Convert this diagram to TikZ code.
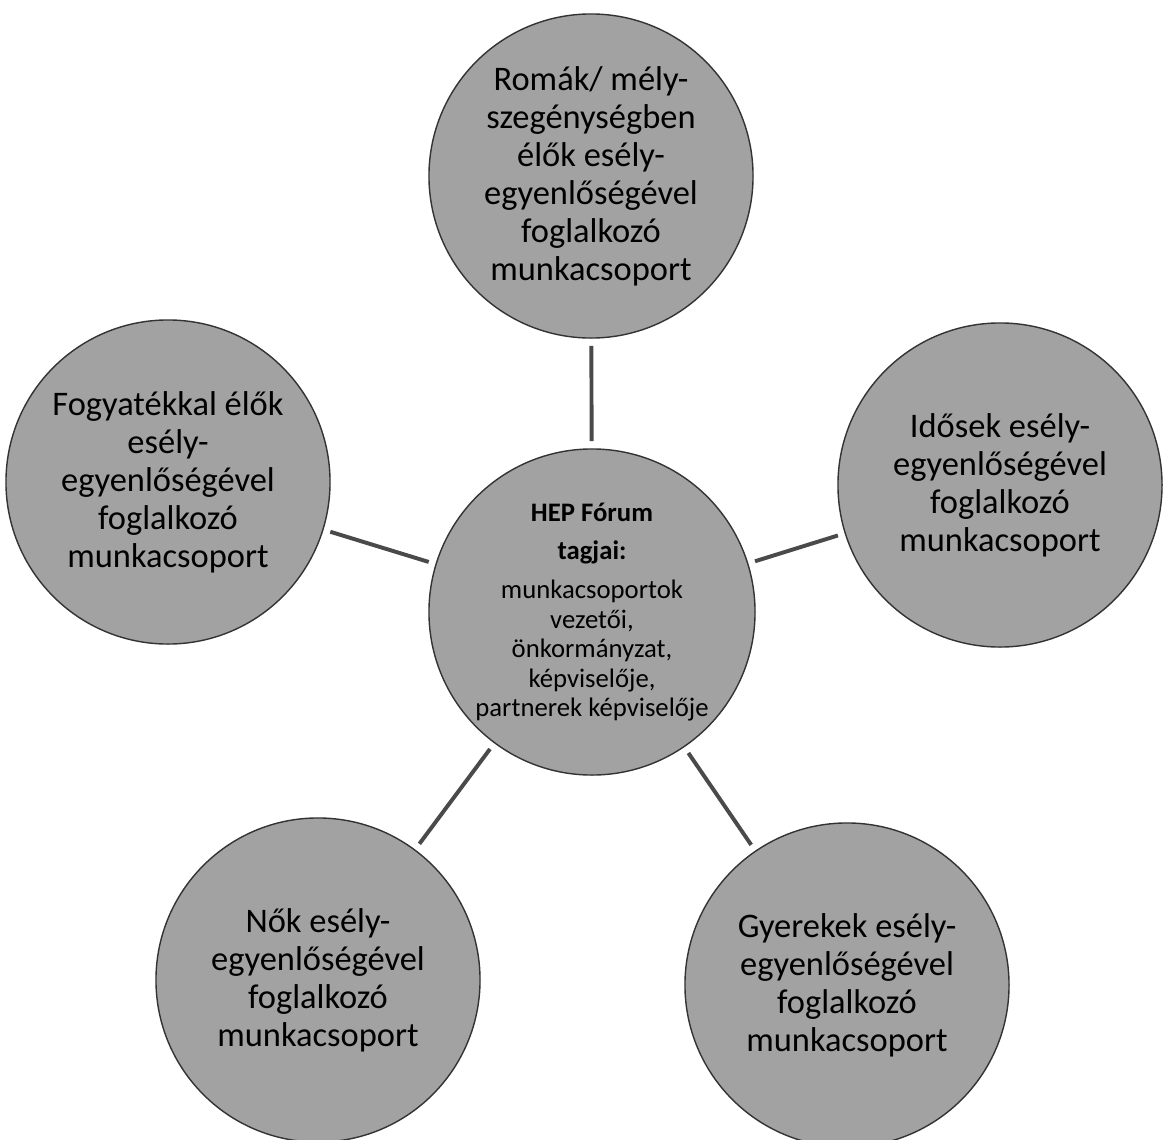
\documentclass[tikz,border=0pt]{standalone}
\usepackage{fontspec}
\setmainfont{Carlito}
\usepackage{xcolor}
\usepackage{tikz}
\usetikzlibrary{calc}
\definecolor{disc}{HTML}{A2A2A2}
\definecolor{rim}{HTML}{333333}
\definecolor{spoke}{HTML}{4A4A4A}
\tikzset{
  group/.style={circle, draw=rim, fill=disc, line width=1pt, inner sep=0pt,
    minimum size=8.1cm, align=center, font=\fontsize{24.5}{27}\selectfont},
  hub/.style={group, minimum size=8.15cm, font=\fontsize{19}{21}\selectfont},
  link/.style={draw=spoke, line width=2.8pt, shorten >=5pt, shorten <=5pt},
}

\begin{document}
\begin{tikzpicture}[x=0.025cm,y=-0.025cm]
  \useasboundingbox (0,0) rectangle (1165,1139);
  \node[hub] (forum) at (592,612) {\textbf{HEP Fórum}\\[6pt]\textbf{tagjai:}\\[7pt]munkacsoportok\\vezetői,\\önkormányzat,\\képviselője,\\partnerek képviselője};
  \node[group] (roma) at (591,176) {Romák/ mély-\\szegénységben\\élők esély-\\egyenlőségével\\foglalkozó\\munkacsoport};
  \node[group] (fogy) at (168,482) {Fogyatékkal élők\\esély-\\egyenlőségével\\foglalkozó\\munkacsoport};
  \node[group] (idos) at (1000,485) {Idősek esély-\\egyenlőségével\\foglalkozó\\munkacsoport};
  \node[group] (nok) at (318,980) {Nők esély-\\egyenlőségével\\foglalkozó\\munkacsoport};
  \node[group] (gyer) at (847,985) {Gyerekek esély-\\egyenlőségével\\foglalkozó\\munkacsoport};
  \draw[link] (roma) -- (forum);
  \draw[link] (fogy) -- (forum);
  \draw[link] (idos) -- (forum);
  \draw[link] (nok) -- (forum);
  \draw[link] (gyer) -- (forum);
\end{tikzpicture}
\end{document}
